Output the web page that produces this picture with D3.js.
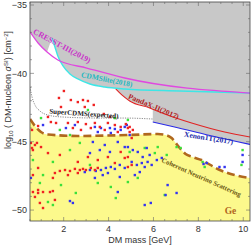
<!DOCTYPE html>
<html>
<head>
<meta charset="utf-8">
<script src="https://cdn.jsdelivr.net/npm/d3@7"></script>
<style>
  body { margin: 0; background: #fff; }
  svg { display: block; }
</style>
</head>
<body>
<svg id="chart" width="252" height="247"></svg>
<script>
'use strict';

// exclusion curves, [mass GeV, log10 sigma]
const cresst = [[0.5, -36.97], [0.86, -37.78], [1.26, -38.44], [1.74, -39.02], [3.03, -39.61], [4.72, -40.34], [10.3, -41.44]];
const cdmslite = [[1.48, -37.41], [1.61, -38.07], [1.74, -38.73], [1.97, -39.46], [2.28, -40.05], [2.63, -40.41], [3.17, -40.78], [3.83, -41.0], [4.72, -41.14], [7.17, -41.29], [10.3, -41.44]];
const pandax = [[4.32, -41.14], [4.59, -41.58], [4.94, -42.02], [5.83, -42.53], [6.5, -42.97], [7.7, -43.63], [9.17, -44.29], [10.3, -44.66]];
const xenon = [[5.97, -43.56], [6.94, -43.92], [8.41, -44.51], [10.3, -45.2]];
const superCdms = [[0.5, -41.0], [0.59, -41.73], [0.72, -42.31], [0.94, -42.75], [1.3, -43.05], [1.92, -43.19], [3.61, -43.27], [4.72, -43.27], [5.97, -43.34]];
const nuFloor = [[0.5, -43.34], [0.72, -43.85], [0.99, -44.29], [1.3, -44.47], [2.63, -44.58], [4.86, -44.51], [6.19, -44.44], [6.54, -44.51], [6.81, -44.73], [7.03, -45.17], [7.21, -45.53], [7.43, -45.9], [7.74, -46.12], [8.14, -46.34], [8.86, -47.0], [9.61, -47.44], [10.3, -47.65]];

// scan points
const redPts = [
  [2.01, -41.29], [1.79, -41.8], [2.32, -41.95], [2.63, -42.1], [2.86, -41.95], [3.08, -42.02], [1.88, -42.46],
  [3.34, -42.31], [2.94, -42.46], [3.79, -42.97], [1.3, -43.19], [4.06, -43.19], [1.43, -43.56], [1.66, -43.63],
  [2.19, -43.63], [2.63, -43.56], [2.99, -43.71], [3.39, -43.63], [3.61, -43.92], [3.97, -43.63], [4.28, -43.78],
  [4.54, -43.92], [4.77, -43.71], [4.86, -44.0], [3.21, -44.0], [2.77, -44.14], [2.41, -44.0], [3.83, -44.14],
  [4.41, -44.29], [4.94, -44.29], [5.08, -44.14], [5.03, -44.73], [4.94, -43.92],
  [0.54, -45.09], [0.72, -45.24], [0.63, -45.61], [0.99, -45.39], [1.3, -45.83], [0.86, -46.92], [1.83, -45.97],
  [2.63, -46.48], [3.08, -46.12], [3.52, -46.34], [3.97, -46.12], [4.54, -45.75], [4.72, -46.19], [4.28, -46.56],
  [4.86, -46.85], [1.61, -47.29], [1.83, -47.14], [2.06, -47.07], [2.28, -47.14], [2.5, -46.99], [2.72, -47.07],
  [2.86, -46.99], [2.99, -47.07], [3.21, -46.92], [3.39, -47.07], [3.52, -46.92], [2.19, -47.44], [2.63, -47.29],
  [1.52, -47.65], [0.63, -48.68], [0.86, -48.75], [1.08, -48.68], [1.39, -48.68], [1.52, -48.61], [0.72, -49.04],
  [1.08, -49.85], [1.61, -49.26], [4.86, -46.12], [5.03, -46.7], [0.59, -44.14], [0.86, -43.85], [0.81, -45.09],
  [0.59, -45.46], [0.63, -47.44], [0.86, -48.53], [0.94, -49.48]
];
const bluePts = [
  [3.39, -43.92], [3.66, -44.0], [4.06, -44.0], [4.28, -44.07], [4.54, -44.14], [4.72, -43.92], [3.52, -44.29],
  [4.1, -44.36], [2.5, -43.78], [1.08, -43.78], [2.1, -44.0], [4.81, -43.78], [4.94, -44.51],
  [2.94, -47.22], [3.17, -47.07], [3.43, -47.14], [3.66, -47.07], [3.88, -46.92], [4.1, -46.85], [4.28, -46.99],
  [4.5, -46.7], [4.72, -46.92], [3.97, -47.29], [3.74, -47.44], [3.39, -47.65], [4.5, -47.58], [3.17, -45.83],
  [3.61, -45.61], [4.06, -45.75], [3.3, -45.02], [3.83, -45.24], [4.41, -45.02], [4.72, -45.39],
  [0.54, -47.65], [4.41, -48.68], [2.41, -49.48], [2.28, -49.34],
  [4.86, -45.39], [5.08, -45.61], [5.3, -45.75], [5.52, -46.12], [5.74, -46.48], [5.92, -46.7], [6.15, -46.34],
  [5.61, -46.85], [5.39, -47.22], [5.17, -47.44], [6.37, -46.19], [5.83, -45.97], [5.7, -45.46], [5.03, -46.48],
  [5.26, -46.7], [5.48, -46.56], [8.23, -46.63], [8.37, -46.56], [8.94, -46.85], [9.17, -46.85], [9.97, -45.97],
  [9.97, -46.48], [6.63, -48.17], [7.03, -48.75], [5.61, -49.63], [5.88, -49.48], [6.54, -48.9]
];
const greenPts = [
  [0.99, -43.27], [3.08, -42.68], [1.83, -44.14], [4.28, -43.27], [4.86, -43.41], [2.28, -45.61], [2.72, -45.09],
  [1.52, -46.48], [1.08, -47.44], [0.94, -48.02], [1.3, -49.41], [1.52, -49.63], [2.54, -48.75], [4.1, -48.31],
  [4.32, -49.12], [3.52, -48.02], [1.88, -48.17], [4.86, -47.95], [3.17, -46.7], [5.61, -45.46], [6.06, -45.83],
  [6.59, -45.97], [7.03, -45.39], [6.19, -45.39], [4.94, -45.75], [5.3, -47.65], [8.19, -46.48], [8.28, -46.85],
  [9.97, -45.61], [9.92, -46.7], [6.5, -48.9], [7.21, -45.46], [2.28, -44.51], [0.63, -46.34]
];

const xTicks = [2, 4, 6, 8, 10];
const yTicks = [-50, -45, -40, -35];

const labels = [
  { text: 'CRESST-III(2019)', m: 1.92, s: -38.0, rot: 28, color: '#c832c8', size: 8 },
  { text: 'CDMSlite(2018)', m: 3.92, s: -40.45, rot: 11, color: '#1fb8c0', size: 7.5 },
  { text: 'PandaX-II(2017)', m: 6.01, s: -42.42, rot: 23, color: '#b01c1c', size: 7.5 },
  { text: 'Xenon1T(2017)', m: 8.46, s: -44.73, rot: 9, color: '#1c2aa8', size: 7.5 },
  { text: 'SuperCDMS(expected)', m: 2.9, s: -42.97, rot: 4, color: '#222', size: 7 },
  { text: 'Coherent Neutrino Scattering', m: 8.14, s: -47.58, rot: 24, color: '#6a5410', size: 6.8 },
  { text: 'Ge', m: 9.43, s: -50.07, rot: 0, color: '#b0641c', size: 9.5 }
];

const W = 252, H = 247;
const margin = { left: 30, right: 2, top: 2, bottom: 26 };
const iw = W - margin.left - margin.right, ih = H - margin.top - margin.bottom;

const x = d3.scaleLinear().domain([0.5, 10.3]).range([margin.left, margin.left + iw]);
const y = d3.scaleLinear().domain([-50.8, -34.78]).range([margin.top + ih, margin.top]);

const svg = d3.select('#chart');

svg.append('defs').append('clipPath').attr('id', 'clip')
  .append('rect')
  .attr('x', margin.left).attr('y', margin.top)
  .attr('width', iw).attr('height', ih);

const plot = svg.append('g').attr('clip-path', 'url(#clip)');

// interpolate a curve at mass m
function at(curve, m) {
  for (let i = 1; i < curve.length; i++) {
    const a = curve[i - 1], b = curve[i];
    if (m <= b[0]) return a[1] + (b[1] - a[1]) * (m - a[0]) / (b[0] - a[0]);
  }
  return curve[curve.length - 1][1];
}

// lower edge of excluded region
const envelope = [];
cresst.filter(d => d[0] < cdmslite[0][0]).forEach(d => envelope.push(d));
cdmslite.filter(d => d[0] < pandax[0][0]).forEach(d => envelope.push(d));
envelope.push([pandax[0][0], at(cdmslite, pandax[0][0])]);
pandax.filter(d => d[0] > pandax[0][0] && d[0] < xenon[0][0]).forEach(d => envelope.push(d));
envelope.push([xenon[0][0], at(pandax, xenon[0][0])]);
xenon.forEach(d => envelope.push(d));

const yTop = y.domain()[1];
const yBot = y.domain()[0];

plot.append('path')
  .datum(envelope)
  .attr('fill', '#c8c8c8')
  .attr('d', d3.area().x(d => x(d[0])).y0(y(yTop)).y1(d => y(d[1])));

plot.append('path')
  .datum(nuFloor)
  .attr('fill', '#fcf98c')
  .attr('d', d3.area().x(d => x(d[0])).y0(y(yBot)).y1(d => y(d[1])).curve(d3.curveMonotoneX));

const line = d3.line().x(d => x(d[0])).y(d => y(d[1])).curve(d3.curveMonotoneX);

plot.append('path').datum(superCdms)
  .attr('fill', 'none').attr('stroke', '#8a8a8a').attr('stroke-width', 1)
  .attr('stroke-dasharray', '1.2,1.2').attr('d', line);

plot.append('path').datum(nuFloor)
  .attr('fill', 'none').attr('stroke', '#b0681e').attr('stroke-width', 2.6)
  .attr('stroke-dasharray', '8,4').attr('d', line);

// points
const pts = [[greenPts, '#3be03b'], [bluePts, '#3434f0'], [redPts, '#f02222']];
pts.forEach(([data, c]) => {
  plot.append('g').selectAll('rect').data(data).enter().append('rect')
    .attr('x', d => x(d[0]) - 1.2).attr('y', d => y(d[1]) - 1.2)
    .attr('width', 2.4).attr('height', 2.4)
    .attr('fill', c);
});

const curves = [
  [xenon, '#2a2ae6', 1.1],
  [pandax, '#e02424', 1.1],
  [cdmslite, '#3ee6e6', 1.4],
  [cresst, '#e048e0', 1.3]
];
curves.forEach(([data, c, w]) => {
  plot.append('path').datum(data)
    .attr('fill', 'none').attr('stroke', c).attr('stroke-width', w)
    .attr('d', line);
});

labels.forEach(l => {
  plot.append('text')
    .attr('transform', `translate(${x(l.m)},${y(l.s)}) rotate(${l.rot})`)
    .attr('text-anchor', 'middle')
    .attr('dominant-baseline', 'central')
    .attr('font-family', '"Liberation Serif", "DejaVu Serif", serif')
    .attr('font-weight', 'bold')
    .attr('font-size', l.size)
    .attr('fill', l.color)
    .text(l.text);
});

// frame and ticks
svg.append('rect')
  .attr('x', margin.left).attr('y', margin.top)
  .attr('width', iw).attr('height', ih)
  .attr('fill', 'none').attr('stroke', '#444').attr('stroke-width', 0.8);

const minorX = d3.range(0.5, 10.31, 0.5);
const minorY = d3.range(-50, -34.7, 1);
const tk = svg.append('g').attr('stroke', '#666').attr('stroke-width', 0.6);
minorX.forEach(v => {
  const len = xTicks.includes(v) ? 4 : 2;
  tk.append('line').attr('x1', x(v)).attr('x2', x(v)).attr('y1', y(yBot)).attr('y2', y(yBot) - len);
  tk.append('line').attr('x1', x(v)).attr('x2', x(v)).attr('y1', y(yTop)).attr('y2', y(yTop) + len);
});
minorY.forEach(v => {
  const len = yTicks.includes(v) ? 4 : 2;
  tk.append('line').attr('y1', y(v)).attr('y2', y(v)).attr('x1', x(0.5)).attr('x2', x(0.5) + len);
  tk.append('line').attr('y1', y(v)).attr('y2', y(v)).attr('x1', x(10.3)).attr('x2', x(10.3) - len);
});

const lab = svg.append('g')
  .attr('font-family', '"Liberation Sans", Arial, sans-serif')
  .attr('font-size', 9).attr('fill', '#333');

xTicks.forEach(v => {
  lab.append('text').attr('x', x(v)).attr('y', y(yBot) + 11)
    .attr('text-anchor', 'middle').text(v);
});
yTicks.forEach(v => {
  lab.append('text').attr('x', margin.left - 3).attr('y', y(v) + 3.2)
    .attr('text-anchor', 'end').text('\u2212' + Math.abs(v));
});

lab.append('text').attr('x', 140).attr('y', 243)
  .attr('text-anchor', 'middle').text('DM mass [GeV]');

const yl = lab.append('text')
  .attr('transform', 'translate(11,90) rotate(-90)')
  .attr('text-anchor', 'middle');
yl.append('tspan').text('log');
yl.append('tspan').attr('font-size', 6).attr('dy', 2).text('10');
yl.append('tspan').attr('dy', -2).text(' ( DM-nucleon ');
yl.append('tspan').attr('font-style', 'italic').text('\u03c3');
yl.append('tspan').attr('font-size', 6).attr('dy', -3).text('SI');
yl.append('tspan').attr('dy', 3).text(') [cm');
yl.append('tspan').attr('font-size', 6).attr('dy', -3).text('\u22122');
yl.append('tspan').attr('dy', 3).text(']');
</script>
</body>
</html>
